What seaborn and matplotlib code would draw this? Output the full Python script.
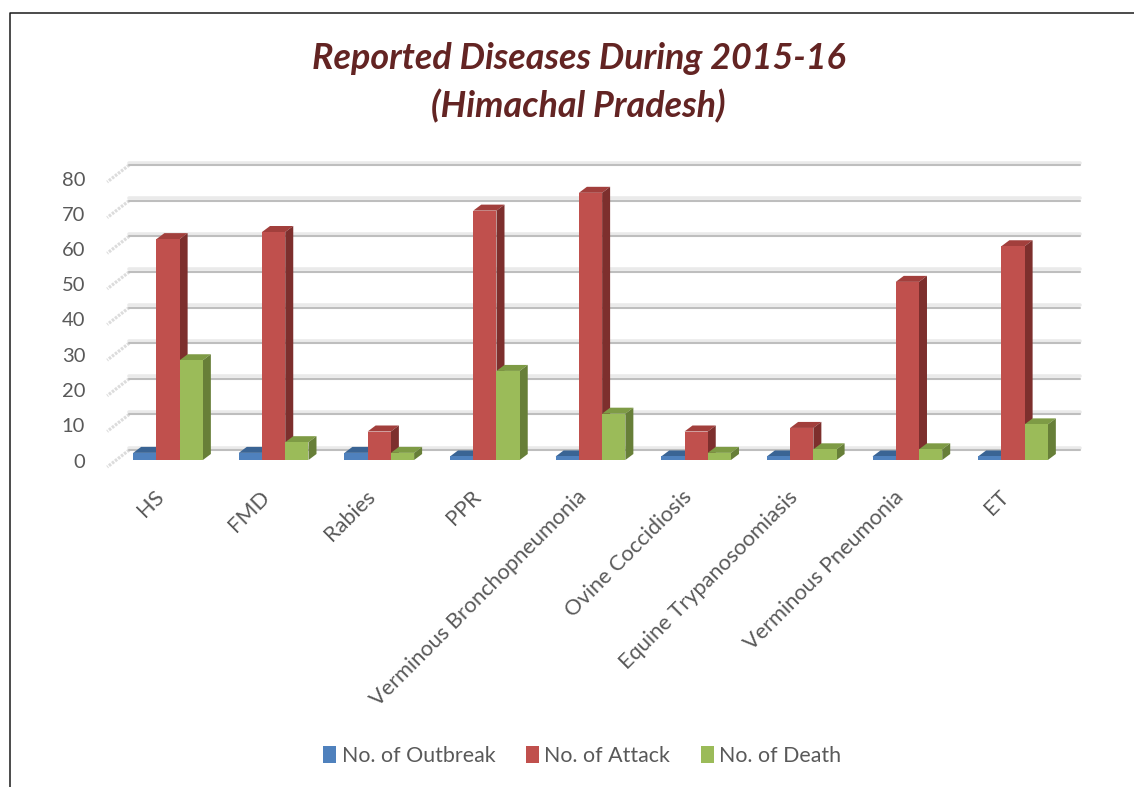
import matplotlib
matplotlib.use("Agg")
import matplotlib.pyplot as plt
from matplotlib.lines import Line2D
from matplotlib.patches import Polygon, Patch
from matplotlib.transforms import Affine2D
import pandas as pd
import seaborn as sns

categories = ["HS", "FMD", "Rabies", "PPR", "Verminous Bronchopneumonia",
              "Ovine Coccidiosis", "Equine Trypanosoomiasis", "Verminous Pneumonia", "ET"]
outbreak = [2, 2, 2, 1, 1, 1, 1, 1, 1]
attack = [62, 64, 8, 70, 75, 8, 9, 50, 60]
death = [28, 5, 2, 25, 13, 2, 3, 3, 10]
series_names = ["No. of Outbreak", "No. of Attack", "No. of Death"]
face = ["#4F81BD", "#C0504D", "#9BBB59"]
top = ["#3A6494", "#A23F3C", "#7E9B45"]
side = ["#2F527C", "#7D2F2D", "#677F38"]
yticks = [0, 10, 20, 30, 40, 50, 60, 70, 80]

W, H = 1134, 787
TEXT = "#595959"
sns.set_theme(style="white")
plt.rcParams["font.family"] = ["Lato", "DejaVu Sans"]

df = pd.DataFrame({"Disease": categories * 3,
                   "Series": sum([[n] * len(categories) for n in series_names], []),
                   "Value": outbreak + attack + death})

fig = plt.figure(figsize=(W / 100, H / 100), dpi=100, facecolor="white")
ax = fig.add_axes([115.2 / W, 1 - 460 / H, 950.6 / W, 285 / H])
sns.barplot(data=df, x="Disease", y="Value", hue="Series", hue_order=series_names,
            palette=face, width=0.66, gap=0, saturation=1, legend=False, ax=ax,
            edgecolor="none", linewidth=0)
ax.set_xlim(-0.5, 8.5)
ax.set_ylim(0, 80)
ax.set_xlabel("")
ax.set_ylabel("")
ax.patch.set_alpha(0)
for s in ax.spines.values():
    s.set_visible(False)


def shifted(dx, dy):
    return ax.transData + Affine2D().translate(dx, dy)


# back wall gridlines and the hatched side-wall edges
back = shifted(14, 10)
band = shifted(14, 12.5)
wall_front = shifted(-8, -7)
x0, x1 = ax.get_xlim()
for v in yticks:
    ax.plot([x0, x1], [v, v], transform=band, color="#EAEAEA", lw=2.6, zorder=1, clip_on=False)
    ax.plot([x0, x1], [v, v], transform=back, color="#BEBEBE", lw=1.5, zorder=2, clip_on=False)
    p0 = back.transform((x0, v))
    p1 = wall_front.transform((x0, v))
    fig.add_artist(Line2D([p0[0] / W, p1[0] / W], [p0[1] / H, p1[1] / H], color="#DCDCDC",
                          lw=2.3, ls=(0, (0.8, 0.4)), zorder=0))

# 3D extrusion of every bar, built from the bar geometry
DX, DY = 8, 6
to_data = ax.transData.inverted()
bars = [b for b in ax.patches if b.get_height() > 0]
order = sorted(range(len(bars)), key=lambda i: bars[i].get_x())
for pos, i in enumerate(order):
    b = bars[i]
    k = pos % 3
    xl, xr, h = b.get_x(), b.get_x() + b.get_width(), b.get_height()
    (pxl, py0), (pxr, pyh) = ax.transData.transform([(xl, 0), (xr, h)])
    tp = [(pxl, pyh), (pxr, pyh), (pxr + DX, pyh + DY), (pxl + DX, pyh + DY)]
    sd = [(pxr, py0), (pxr, pyh), (pxr + DX, pyh + DY), (pxr + DX, py0 + DY)]
    ax.add_patch(Polygon(to_data.transform(tp), closed=True, fc=top[k], ec="none", zorder=4 + k * 0.1, clip_on=False))
    ax.add_patch(Polygon(to_data.transform(sd), closed=True, fc=side[k], ec="none", zorder=4 + k * 0.1, clip_on=False))
    b.set_zorder(4.05 + k * 0.1)
    b.set_clip_on(False)

ax.set_yticks(yticks)
ax.tick_params(axis="y", length=0, labelsize=14.5, labelcolor=TEXT, pad=0)
ax.tick_params(axis="x", length=0, labelcolor=TEXT, labelsize=15.7, pad=12)
ax.set_xticks(range(len(categories)))
ax.set_xticklabels(categories, rotation=45, ha="right", rotation_mode="anchor")

_, base = ax.transData.transform((0, 0))
ytick_shift = (Affine2D().translate(0, -base).scale(1, 282 / 285).translate(0, base - 0.5)
               + Affine2D().translate(-30, 0))
for lab in ax.get_yticklabels():
    lab.set_transform(ax.get_yaxis_transform() + ytick_shift)
    lab.set_ha("right")
for lab in ax.get_xticklabels():
    lab.set_transform(lab.get_transform() + Affine2D().translate(-14, -10))

fig.text(578.5 / W, 1 - 82.5 / H, "Reported Diseases During 2015-16\n(Himachal Pradesh)", ha="center", va="center",
         fontsize=25.85, fontweight="bold", fontstyle="italic", color="#632423", linespacing=1.47)

handles = [Patch(fc=c, ec="none", label=l) for c, l in zip(face, series_names)]
fig.legend(handles=handles, loc="center", bbox_to_anchor=(582.5 / W, 1 - 756 / H), ncols=3, frameon=False,
           fontsize=15.4, labelcolor=TEXT, handlelength=0.6, handleheight=0.85, handletextpad=0.25, columnspacing=1.45)

fig.add_artist(Line2D([10 / W, 10 / W, 1], [0, 1 - 13 / H, 1 - 13 / H], color="#1A1A1A", lw=1.1))

fig.savefig("out.png", dpi=100, facecolor="white")
